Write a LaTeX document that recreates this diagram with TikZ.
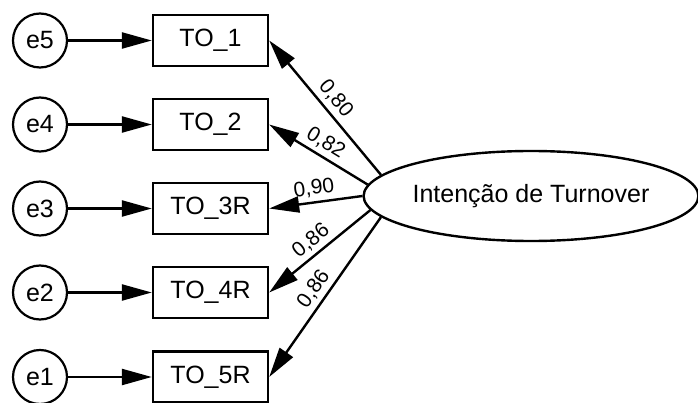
\documentclass[tikz,border=0pt]{standalone}
\usepackage{fontspec}
\setmainfont{Liberation Sans}
\usetikzlibrary{arrows.meta,shapes.geometric}
\begin{document}
\begin{tikzpicture}[x=1pt,y=-1pt,
  every node/.style={font=\fontsize{25}{30}\selectfont},
  errc/.style={circle,draw,line width=2.2pt,minimum size=54pt,inner sep=0pt},
  obsbox/.style={rectangle,draw,line width=2.4pt,minimum width=115pt,minimum height=51pt,inner sep=0pt},
  latent/.style={ellipse,draw,line width=2.4pt,minimum width=334pt,minimum height=90pt,inner sep=0pt},
  path/.style={line width=2.4pt,-{Triangle[length=30pt,width=16pt]}},
  lbl/.style={font=\fontsize{21}{24}\selectfont,sloped,above,inner sep=4pt,pos=0.5}]
\useasboundingbox (0,0) rectangle (698,403);
\begin{scope}
\clip (0,0) rectangle (698,403);
\foreach \i/\e/\t/\y in {1/e5/TO\_1/40.5,2/e4/TO\_2/124.5,3/e3/TO\_3R/208.5,4/e2/TO\_4R/292.5,5/e1/TO\_5R/377}{
  \node[errc] (\e) at (40,\y) {\e};
  \node[obsbox] (to\i) at (210.5,\y) {\t};
  \draw[path] (\e) -- (to\i);
}
\node[latent] (lat) at (531,196) {Intenção de Turnover};
\draw[path] (lat.172) -- node[lbl] {0,80} (to1.east);
\draw[path] (lat.176) -- node[lbl] {0,82} (to2.east);
\draw[path] (lat.180) -- node[lbl] {0,90} (to3.east);
\draw[path] (lat.185.5) -- node[lbl] {0,86} (to4.east);
\draw[path] (lat.188.5) -- node[lbl] {0,86} (to5.east);
\end{scope}
\end{tikzpicture}
\end{document}
